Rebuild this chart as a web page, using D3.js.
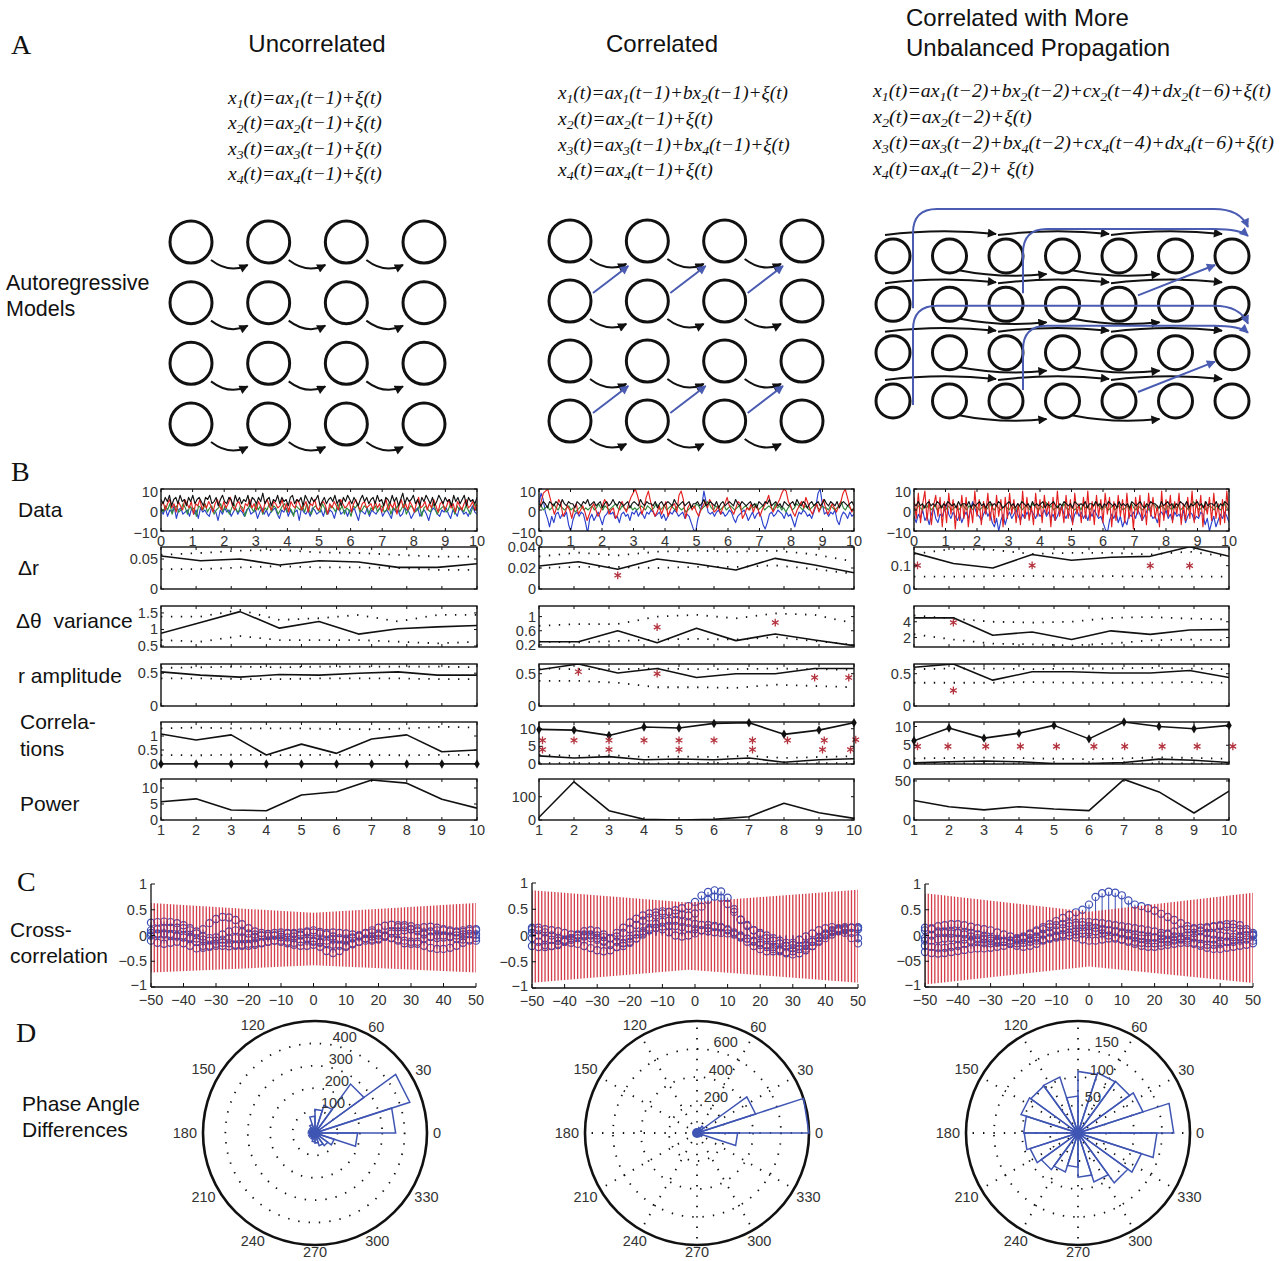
<!DOCTYPE html>
<html><head><meta charset="utf-8">
<script src="https://cdn.jsdelivr.net/npm/d3@7"></script>
<style>
body{margin:0;background:#fff}
svg{display:block}
text{font-family:"Liberation Sans",Arial,sans-serif;fill:#111}
</style>
</head><body><script>
// ===================== A: model equations =====================
const eqUncorrelated = ["x_1(t)=ax_1(t−1)+ξ(t)","x_2(t)=ax_2(t−1)+ξ(t)","x_3(t)=ax_3(t−1)+ξ(t)","x_4(t)=ax_4(t−1)+ξ(t)"];
const eqCorrelated = ["x_1(t)=ax_1(t−1)+bx_2(t−1)+ξ(t)","x_2(t)=ax_2(t−1)+ξ(t)","x_3(t)=ax_3(t−1)+bx_4(t−1)+ξ(t)","x_4(t)=ax_4(t−1)+ξ(t)"];
const eqUnbalanced = ["x_1(t)=ax_1(t−2)+bx_2(t−2)+cx_2(t−4)+dx_2(t−6)+ξ(t)","x_2(t)=ax_2(t−2)+ξ(t)","x_3(t)=ax_3(t−2)+bx_4(t−2)+cx_4(t−4)+dx_4(t−6)+ξ(t)","x_4(t)=ax_4(t−2)+ ξ(t)"];
const columnTitles = [["Uncorrelated"],["Correlated"],["Correlated with More","Unbalanced Propagation"]];

// Model graph edges: [row, fromNode, toRow, toNode]
const edgesUncorrelated = [[0,0,0,1],[0,1,0,2],[0,2,0,3],[1,0,1,1],[1,1,1,2],[1,2,1,3],[2,0,2,1],[2,1,2,2],[2,2,2,3],[3,0,3,1],[3,1,3,2],[3,2,3,3]];
const edgesCorrelatedCross = [[1,0,0,1],[1,1,0,2],[1,2,0,3],[3,0,2,1],[3,1,2,2],[3,2,2,3]];
const edgesLag2Above = [[0,2],[2,4],[4,6]];
const edgesLag2Below = [[1,3],[3,5]];
// cross-coupling in the unbalanced model: [srcRow, srcNode, tgtRow, tgtNode, lag]
const edgesUnbalancedCross = [[1,0,0,6,6],[1,2,0,6,4],[1,4,0,6,2],[3,0,2,6,6],[3,2,2,6,4],[3,4,2,6,2]];

// ===================== B: time-resolved measures =====================
const dataTicks = [0,1,2,3,4,5,6,7,8,9,10];
const nineX = [1,2.125,3.25,4.375,5.5,6.625,7.75,8.875,10];
const tenX = [1,2,3,4,5,6,7,8,9,10];

// Uncorrelated
const c1Blue = [0,-2,1,-3,0,-1,2,-4,0,1,-2,-1,0,-3,1,-2,0,-4,1,-1,0,-2,-3,1,0,-1,-5,0,-2,1,-1,0,-3,-1,1,-2,0,-1,-3,0,1,-2,-1,0,-4,-1,1,-2,0,-3,-1,0,1,-2,-4,0,-1,1,-3,0,-2,-1,0,-5,1,-1,-2,0,-3,1,0,-2,-1,0,-3,1,-2,0,-1,-4,0,1,-2,-1,0,-3,0,-1,1,-2,-5,0,-1,-2,1,-3,0,-1,-2,0,1,-3,-1,0,-2,-4,1,-1,0,-3,-2,1,0,-1,-4,-2,0,1,-3,-1,0,-2,-5,-1,1,0,-2,-3,0,-1,1,-2,-4,0,-1,-3,1,0,-2,-1,-3,0,2,-1,-2];
const c1Green = [1,-1,2,0,3,-2,1,2,-1,0,3,1,-2,2,0,1,-3,2,1,0,3,-1,1,2,-2,0,1,3,-1,2,0,-2,1,3,0,-1,2,1,-3,0,2,1,-1,3,0,2,-2,1,0,3,-1,2,1,-2,0,2,3,-1,1,0,-3,2,1,0,2,-1,3,0,-2,1,2,0,-1,3,1,-2,0,2,1,-1,3,0,2,-2,1,0,-3,2,1,3,-1,0,2,1,-2,1,0,2,-1,1,2,-1,0,3,-2,1,0,2,-1,1,3,-2,0,2,1,-1,0,2,-3,1,2,0,-1,3,1,-2,0,1,2,-1,0,3,1,-2,2,0,1,-1,2,0,-2,1,3,0];
const c1Red = [2,4,0,3,5,1,3,-1,4,2,0,5,3,1,4,-2,3,2,5,0,3,1,4,2,-1,3,5,2,0,4,1,3,6,2,0,3,4,1,-1,3,2,5,1,3,0,4,2,-1,3,5,2,0,4,3,1,2,5,0,3,-1,4,2,1,5,3,0,2,4,-1,3,2,5,1,0,3,4,2,-2,3,1,4,2,0,5,3,1,2,4,-1,3,5,2,0,3,4,1,2,3,0,4,1,3,-1,2,5,0,3,1,4,-2,2,5,1,3,0,4,2,-1,3,6,1,2,4,0,3,1,5,2,-1,3,4,0,2,5,1,3,-1,4,2,0,3,5,1,2,4,0,3];
const c1Black = [5,3,6,4,7,2,5,6,3,7,4,5,2,6,4,7,3,5,6,4,2,6,5,7,3,4,6,2,5,7,4,3,6,5,2,7,4,6,3,5,4,7,2,6,5,3,6,4,8,3,5,6,2,5,4,7,3,6,4,5,2,6,7,3,5,4,6,2,7,5,3,6,4,5,7,2,4,6,3,5,6,4,7,3,5,2,6,4,7,5,3,6,4,2,5,7,4,6,3,5,6,3,7,4,5,2,6,5,3,7,4,6,2,5,8,3,6,4,5,7,3,5,2,6,4,7,5,3,6,2,4,7,5,3,6,4,5,2,7,4,6,3,5,7,2,6,4,5,3,6];
const c1DrLine = [0.055,0.047,0.050,0.040,0.047,0.045,0.036,0.036,0.042];
const c1DrUp = [0.057,0.060,0.064,0.065,0.061,0.060,0.057,0.054,0.054];
const c1DrLo = [0.033,0.033,0.036,0.038,0.036,0.036,0.035,0.032,0.032];
const c1DthLine = [0.885,1.21,1.54,1.04,1.24,0.86,1.02,1.08,1.12];
const c1DthUp = [1.39,1.39,1.59,1.29,1.34,1.44,1.24,1.44,1.44];
const c1DthLo = [0.68,0.63,0.80,0.68,0.68,0.68,0.63,0.58,0.63];
const c1RampLine = [0.52,0.47,0.44,0.48,0.47,0.50,0.52,0.47,0.47];
const c1RampUp = [0.58,0.59,0.60,0.59,0.60,0.60,0.60,0.60,0.59];
const c1RampLo = [0.42,0.42,0.41,0.41,0.42,0.42,0.42,0.41,0.41];
const c1CorrLine = [1.07,0.86,1.04,0.32,0.71,0.38,0.89,1.04,0.44,0.5];
const c1CorrDiamond = [0,0,0,0,0,0,0,0,0,0];
const c1CorrUp = [1.27,1.30,1.27,1.27,1.27,1.25,1.24,1.27,1.33,1.30];
const c1CorrLo = [0.32,0.31,0.33,0.32,0.32,0.33,0.32,0.31,0.33,0.32];
const c1Power = [5.7,6.6,3.1,2.9,7.8,8.8,12.5,11.5,6.5,3.7];

// Correlated
const c2Blue = [3,8,5,-1,-4,-8,-3,-6,-2,-1,-4,-2,-3,-1,-7,-10,-5,-2,-1,-3,-1,-2,-6,-11,-4,-2,-5,-3,-1,-4,-7,-3,-2,0,-2,-1,-4,-3,-6,-2,-1,-3,-2,-5,-1,-2,0,-3,-1,-2,-4,-1,-2,0,-1,-3,-2,-1,-4,-2,-5,-3,-1,-2,0,-1,-3,-2,-1,-4,-2,-3,-6,-9,-11,-5,-1,2,9,4,-1,-2,-1,-3,-1,0,-2,-1,-3,-2,0,-1,-4,-6,-3,-2,-1,0,-2,-5,-3,-1,-4,-2,-1,-3,-7,-9,-6,-2,-1,-3,-2,0,-1,-2,-4,-1,-3,-2,-5,-8,-4,-1,-2,0,-1,-3,-2,-4,-1,2,8,10,3,-2,-1,-3,-1,-2,0,-5,-7,-3,-1,-2,-4,-1,-3,-2];
const c2Green = [1,2,0,1,2,0,1,3,1,0,2,1,0,1,2,0,1,-1,0,1,2,0,1,0,1,2,0,1,3,1,0,2,1,0,1,2,3,1,0,2,1,0,1,2,0,1,0,1,2,1,0,2,1,0,1,3,2,0,1,2,0,1,2,1,0,2,1,0,1,-1,0,1,2,1,3,2,0,1,2,4,3,1,0,2,1,0,1,2,0,1,2,1,0,1,2,0,1,2,1,0,2,1,3,0,1,2,0,1,2,1,0,3,1,2,0,1,-1,1,2,0,1,3,2,1,0,2,1,0,1,2,3,1,0,2,1,1,0,2,1,0,1,2,4,1,0,2,1,0,1];
const c2Red = [0,4,8,9,10,6,2,-2,1,5,3,-3,-1,2,0,-4,1,3,-2,0,2,-1,-5,-2,1,3,0,-3,-1,2,5,3,-2,0,1,-4,-2,2,4,1,-1,3,6,8,10,7,3,-2,1,6,9,4,0,-3,-1,2,-2,1,4,-3,0,2,3,-1,7,9,5,-4,1,3,0,2,-1,-3,0,2,4,1,5,3,-1,0,2,-2,1,3,6,2,0,-2,1,4,3,-4,-2,1,0,3,-1,2,1,-3,0,2,4,7,2,-1,1,3,5,8,10,9,4,2,-1,-3,0,2,4,1,6,3,0,-2,1,3,-1,2,5,1,-2,0,3,1,-1,2,4,8,10,6,2,-1,1];
const c2Black = [3,2,4,3,1,4,3,2,4,3,2,5,3,2,4,3,3,1,4,3,2,4,3,5,2,3,4,2,3,4,1,3,4,2,3,5,3,2,4,3,2,3,4,1,3,4,3,2,5,3,2,4,3,3,2,4,1,3,4,2,3,4,3,2,5,3,2,3,4,2,3,4,1,3,3,4,2,3,5,2,3,4,3,2,4,1,3,4,2,3,4,3,2,5,3,2,4,3,2,3,4,2,3,1,4,3,2,4,3,5,2,3,4,2,3,1,4,3,2,3,4,2,5,3,2,4,3,1,3,4,2,3,4,2,3,5,3,2,4,3,2,4,1,3,4,3,2,3,4,2];
const c2DrLine = [0.0219,0.026,0.0188,0.0286,0.0238,0.0181,0.0292,0.0229,0.0155];
const c2DrUp = [0.031,0.0346,0.032,0.0355,0.0365,0.0355,0.0365,0.033,0.026];
const c2DrLo = [0.020,0.021,0.021,0.020,0.021,0.021,0.0225,0.019,0.0145];
const c2DrStars = [[3.25,0.013]];
const c2DthLine = [0.29,0.29,0.6,0.26,0.67,0.32,0.51,0.34,0.18];
const c2DthUp = [0.74,0.79,0.79,1.0,1.05,0.95,1.09,1.05,0.81];
const c2DthLo = [0.29,0.27,0.31,0.35,0.37,0.35,0.42,0.31,0.2];
const c2DthStars = [[4.375,0.7],[7.75,0.83]];
const c2RampLine = [0.56,0.65,0.51,0.58,0.44,0.5,0.5,0.58,0.58];
const c2RampUp = [0.58,0.57,0.57,0.58,0.57,0.57,0.58,0.57,0.56];
const c2RampLo = [0.39,0.39,0.36,0.29,0.29,0.28,0.33,0.31,0.29];
const c2RampStars = [[2.125,0.53],[4.375,0.5],[8.875,0.44],[9.85,0.44]];
const c2CorrDiamond = [9.8,9.6,8.1,10.5,10.2,11.5,11.7,8.4,9.6,11.7];
const c2CorrLine = [2.3,1.7,2.1,1.2,1.4,1.2,1.7,0.5,1.2,1.5];
const c2CorrUp = [2.6,2.3,2.5,2.0,2.1,2.0,2.3,1.7,2.0,2.2];
const c2CorrLo = [0.3,0.2,0.3,0.2,0.2,0.3,0.2,0.1,0.2,0.3];
const c2CorrStars = [[1.1,6.7],[1.1,4.1],[2,6.7],[3,6.7],[3,4.1],[4,6.7],[5,6.7],[5,4.1],[6,6.7],[7.1,6.7],[7.1,4.1],[8.1,6.7],[9.15,6.7],[9.1,4.1],[10.05,6.9],[9.9,4.1]];
const c2Power = [11.6,164,40,3,0,3,14,72,31,7];

// Correlated, unbalanced propagation
const c3Blue = [-3,-6,-2,-4,0,-5,-3,-7,-2,1,-4,-6,-2,-3,0,3,-2,-4,-1,-3,-5,-2,-6,-3,-1,-4,0,4,1,-2,-3,-5,-2,0,-3,-1,-6,-8,-4,-10,-5,-2,-7,-3,-1,-4,-2,0,-3,-5,-2,-4,-1,-3,0,-2,-4,-1,-3,-2,0,-3,-1,-4,-2,-5,-3,0,2,-2,-4,-1,-3,-6,-2,0,-3,-1,-4,-2,-5,-1,-3,0,-2,-4,-3,-6,-9,-11,-5,-2,-4,-1,-6,-3,-8,-5,-7,-2,-3,-1,-4,0,-2,-5,-3,-1,2,-2,-4,-3,-6,-2,-1,-3,0,-4,-2,-5,-1,-3,-2,-4,0,-6,-3,-1,-2,-5,-3,-4,-1,-2,-7,-4,-10,-6,-3,-8,-5,-2,-4,-1,-3,-6];
const c3Green = [1,0,2,1,0,2,1,3,0,1,2,0,1,2,1,0,2,1,0,1,2,0,1,3,1,0,2,1,0,2,1,0,1,2,0,1,3,1,0,2,1,0,1,2,1,0,2,1,0,1,2,0,1,2,1,0,3,2,1,0,2,1,4,3,1,2,0,1,2,0,1,3,1,0,2,1,0,1,2,0,3,1,2,0,1,2,4,3,1,0,2,1,0,1,2,0,1,2,1,0,1,2,0,3,1,0,2,1,0,1,2,0,1,3,2,0,1,2,1,0,2,1,0,3,1,2,0,1,2,1,0,2,4,3,1,0,1,2,0,1,2,1,0,2,1,0,1,3,1,0];
const c3Red = [6,-4,8,-6,3,9,-5,5,-7,2,7,-3,6,-8,4,-6,8,-2,5,-9,3,-5,7,-4,6,-8,2,-6,9,-3,5,-7,4,-2,8,-5,3,-6,7,-3,5,-8,6,-4,8,-2,5,-6,3,-7,9,-4,6,-5,2,-7,8,-3,5,-6,7,-2,4,-8,6,-5,9,-3,2,-6,7,-4,5,-7,8,-2,3,-6,6,-4,9,-5,4,-7,7,-3,5,-6,8,-2,6,-8,4,-5,7,-3,5,-6,8,-4,3,-9,6,-2,7,-5,4,-7,8,-3,6,-4,2,-8,9,-5,5,-3,7,-6,4,-2,8,-7,3,-5,6,-4,9,-6,5,-3,7,-8,4,-2,6,-5,8,-4,3,-7,5,-6,9,-3];
const c3Black = [3,2,4,2,3,1,3,4,2,3,2,4,3,1,3,2,4,3,2,3,1,4,2,3,3,2,4,1,3,2,3,4,2,3,1,3,4,2,3,2,4,3,1,2,3,4,2,3,1,3,2,4,3,2,3,1,4,2,3,2,3,4,1,3,2,3,4,2,1,3,2,4,3,2,3,1,4,3,2,3,2,4,1,3,3,2,4,2,3,1,3,2,4,3,2,3,1,4,2,3,2,3,1,4,3,2,3,4,2,1,3,2,4,3,3,2,1,4,2,3,4,2,3,1,3,2,4,3,2,4,1,3,2,3,4,2,3,1,4,2,3,3,2,4,1,3,2,4,3,2];
const c3DrLine = [0.155,0.109,0.09,0.148,0.123,0.136,0.14,0.181,0.14];
const c3DrUp = [0.15,0.172,0.168,0.15,0.155,0.155,0.148,0.16,0.138];
const c3DrLo = [0.053,0.053,0.055,0.055,0.053,0.055,0.053,0.053,0.053];
const c3DrStars = [[1.1,0.101],[4.375,0.101],[7.75,0.1],[8.875,0.1]];
const c3DthLine = [4.5,4.5,2.3,2.7,1.75,2.85,2.4,2.95,3.0];
const c3DthUp = [4.8,4.4,4.0,3.9,4.0,4.5,4.6,4.4,4.3];
const c3DthLo = [2.42,1.74,1.23,1.14,1.0,1.23,1.65,1.74,1.65];
const c3DthStars = [[2.125,3.9]];
const c3RampLine = [0.6,0.65,0.4,0.53,0.53,0.51,0.51,0.55,0.44];
const c3RampUp = [0.57,0.58,0.58,0.57,0.58,0.58,0.59,0.58,0.57];
const c3RampLo = [0.36,0.36,0.36,0.37,0.36,0.36,0.36,0.37,0.36];
const c3RampStars = [[2.125,0.24]];
const c3CorrDiamond = [6.2,9.6,6.9,8.2,10.3,6.7,11.2,10,9.4,10.3];
const c3CorrLine = [0.3,0.6,0.8,0.6,0.1,0.1,0.4,1.3,1.0,0.4];
const c3CorrUp = [1.5,1.6,1.7,1.6,1.4,1.3,1.5,1.8,1.6,1.4];
const c3CorrLo = [0.1,0.1,0.2,0.1,0.0,0.1,0.1,0.2,0.1,0.1];
const c3CorrStars = [[1.1,4.7],[1.97,4.7],[3.05,4.7],[4.04,4.7],[5.07,4.7],[6.14,4.7],[7.02,4.7],[8.09,4.7],[9.09,4.7],[10.11,4.7]];
const c3Power = [25,17,13,17,14,12,52,36,9,37];

// ===================== C: cross-correlation =====================
const xcorrTicks = [-50,-40,-30,-20,-10,0,10,20,30,40,50];
const xcorrYTicks = [1,0.5,0,-0.5,-1];
const xcorrYLabels1 = ["1","0.5","0","−0.5","−1"];
const xcorrYLabels3 = ["1","0.5","0","−05","−1"];
// significance envelope breakpoints: lag, upper, lower
const env1Lags = [-50,0,50], env1Up = [0.63,0.44,0.63], env1Lo = [-0.72,-0.58,-0.72];
const env2Lags = [-50,-2,50], env2Up = [0.86,0.63,0.87], env2Lo = [-0.9,-0.65,-0.9];
const env3Lags = [-50,0,50], env3Up = [0.82,0.46,0.83], env3Lo = [-0.95,-0.6,-0.92];
// cross-correlation at lags -50..50 in steps of 2
const xc1a = [0.25,0.26,0.27,0.26,0.24,0.2,0.14,0.08,0.12,0.24,0.32,0.36,0.35,0.3,0.22,0.14,0.08,0.05,0.03,0.0,-0.03,-0.04,-0.02,0.02,0.06,0.1,0.07,0.02,-0.02,-0.05,-0.06,-0.04,0.0,0.05,0.1,0.15,0.19,0.21,0.2,0.16,0.12,0.08,0.06,0.08,0.1,0.1,0.08,0.06,0.07,0.09,0.1];
const xc1b = [0.1,0.12,0.14,0.15,0.15,0.14,0.1,0.04,-0.02,-0.05,-0.04,0.02,0.08,0.1,0.07,0.04,0.02,0.0,-0.01,0.0,0.02,0.04,0.03,0.0,-0.05,-0.12,-0.22,-0.3,-0.34,-0.3,-0.22,-0.15,-0.12,-0.1,-0.08,-0.06,-0.02,0.04,0.08,0.1,0.12,0.14,0.16,0.17,0.15,0.12,0.1,0.08,0.1,0.12,0.12];
const xc1c = [-0.1,-0.14,-0.16,-0.14,-0.12,-0.15,-0.2,-0.25,-0.24,-0.2,-0.16,-0.14,-0.15,-0.18,-0.2,-0.2,-0.18,-0.15,-0.12,-0.1,-0.1,-0.12,-0.14,-0.12,-0.1,-0.1,-0.12,-0.15,-0.18,-0.2,-0.2,-0.17,-0.12,-0.06,-0.02,0.0,-0.02,-0.05,-0.08,-0.1,-0.12,-0.16,-0.2,-0.24,-0.26,-0.26,-0.24,-0.2,-0.14,-0.08,-0.05];
const xc1d = [0.0,0.02,0.04,0.03,0.0,-0.04,-0.06,-0.06,-0.08,-0.1,-0.1,-0.08,-0.06,-0.05,-0.04,-0.05,-0.03,0.0,0.03,0.05,0.06,0.05,0.05,0.06,0.08,0.06,0.04,0.05,0.06,0.05,0.04,0.02,-0.02,-0.06,-0.1,-0.08,-0.02,0.08,0.16,0.2,0.18,0.1,0.02,-0.03,-0.05,-0.04,-0.02,0.0,0.02,0.03,0.02];
const xc1e = [0.05,0.04,0.02,0.0,-0.02,0.0,-0.04,-0.12,-0.2,-0.22,-0.2,-0.2,-0.21,-0.2,-0.18,-0.16,-0.15,-0.14,-0.12,-0.1,-0.12,-0.15,-0.18,-0.2,-0.2,-0.18,-0.14,-0.1,-0.08,-0.08,-0.1,-0.06,0.0,0.04,0.06,0.04,0.0,-0.05,-0.1,-0.15,-0.16,-0.12,-0.06,-0.02,0.0,0.0,-0.03,-0.06,-0.08,-0.1,-0.1];
const xc2a = [0.12,0.1,0.06,0.0,-0.05,-0.08,-0.08,-0.05,0.0,0.02,0.0,-0.03,-0.05,-0.02,0.05,0.12,0.2,0.28,0.34,0.38,0.42,0.45,0.48,0.52,0.56,0.64,0.76,0.83,0.86,0.84,0.72,0.5,0.3,0.18,0.1,0.05,0.0,-0.05,-0.1,-0.14,-0.18,-0.2,-0.18,-0.12,-0.05,0.02,0.08,0.12,0.14,0.15,0.15];
const xc2b = [0.15,0.15,0.12,0.1,0.08,0.05,0.02,0.0,-0.02,-0.05,-0.08,-0.1,-0.05,0.05,0.15,0.25,0.32,0.38,0.42,0.44,0.46,0.45,0.42,0.4,0.38,0.42,0.55,0.68,0.74,0.72,0.6,0.45,0.3,0.2,0.1,0.02,-0.05,-0.1,-0.15,-0.2,-0.24,-0.26,-0.25,-0.2,-0.12,-0.05,0.02,0.08,0.12,0.15,0.16];
const xc2c = [-0.05,-0.12,-0.18,-0.2,-0.18,-0.12,-0.05,0.02,0.08,0.1,0.08,0.02,-0.05,-0.12,-0.15,-0.12,-0.05,0.05,0.15,0.22,0.26,0.28,0.28,0.26,0.24,0.22,0.2,0.2,0.18,0.16,0.12,0.06,0.0,-0.06,-0.12,-0.18,-0.22,-0.26,-0.3,-0.32,-0.3,-0.26,-0.2,-0.12,-0.04,0.04,0.1,0.14,0.16,0.15,0.12];
const xc2d = [0.05,0.0,-0.05,-0.08,-0.1,-0.12,-0.14,-0.16,-0.2,-0.24,-0.28,-0.3,-0.28,-0.22,-0.14,-0.06,0.02,0.08,0.12,0.15,0.17,0.18,0.18,0.16,0.14,0.12,0.1,0.08,0.06,0.05,0.04,0.02,-0.02,-0.06,-0.1,-0.14,-0.18,-0.22,-0.28,-0.34,-0.36,-0.34,-0.28,-0.2,-0.1,0.0,0.06,0.1,0.1,0.05,-0.05];
const xc2e = [-0.2,-0.22,-0.22,-0.2,-0.16,-0.1,-0.05,0.0,0.02,0.0,-0.05,-0.12,-0.18,-0.22,-0.2,-0.14,-0.06,0.02,0.1,0.14,0.12,0.06,0.0,-0.02,0.0,0.04,0.1,0.14,0.16,0.15,0.1,0.04,-0.04,-0.12,-0.2,-0.26,-0.3,-0.3,-0.26,-0.2,-0.14,-0.08,-0.02,0.04,0.1,0.14,0.16,0.12,0.05,-0.05,-0.15];
const xc3a = [-0.1,-0.1,-0.08,-0.06,-0.05,-0.06,-0.08,-0.1,-0.12,-0.14,-0.15,-0.14,-0.12,-0.1,-0.06,-0.02,0.04,0.1,0.16,0.22,0.28,0.34,0.4,0.45,0.5,0.6,0.75,0.82,0.85,0.83,0.78,0.68,0.6,0.57,0.53,0.48,0.42,0.36,0.3,0.24,0.18,0.12,0.08,0.05,0.02,0.0,-0.02,-0.03,-0.02,0.0,0.02];
const xc3b = [-0.32,-0.34,-0.35,-0.34,-0.32,-0.3,-0.28,-0.26,-0.25,-0.25,-0.24,-0.22,-0.2,-0.16,-0.1,-0.04,0.02,0.08,0.12,0.16,0.2,0.22,0.24,0.25,0.26,0.26,0.25,0.24,0.22,0.2,0.18,0.16,0.14,0.12,0.1,0.08,0.05,0.02,-0.02,-0.06,-0.1,-0.14,-0.16,-0.18,-0.18,-0.16,-0.12,-0.08,-0.04,0.0,0.0];
const xc3c = [0.1,0.14,0.18,0.2,0.22,0.22,0.2,0.17,0.14,0.12,0.1,0.06,0.02,-0.02,-0.05,-0.06,-0.05,-0.02,0.02,0.06,0.1,0.14,0.18,0.2,0.2,0.18,0.15,0.12,0.1,0.08,0.06,0.04,0.02,0.0,-0.02,-0.04,-0.06,-0.08,-0.08,-0.05,0.0,0.05,0.1,0.14,0.18,0.2,0.22,0.22,0.2,0.12,0.0];
const xc3d = [-0.05,0.0,0.05,0.08,0.08,0.06,0.02,-0.02,-0.05,-0.08,-0.1,-0.12,-0.12,-0.1,-0.08,-0.06,-0.05,-0.06,-0.08,-0.06,-0.02,0.02,0.06,0.08,0.1,0.1,0.08,0.04,0.0,-0.04,-0.08,-0.1,-0.12,-0.14,-0.15,-0.15,-0.14,-0.12,-0.1,-0.08,-0.06,-0.04,-0.04,-0.06,-0.08,-0.1,-0.12,-0.12,-0.1,-0.08,-0.15];
const xc3e = [-0.2,-0.22,-0.24,-0.24,-0.22,-0.2,-0.16,-0.12,-0.08,-0.06,-0.06,-0.08,-0.12,-0.16,-0.2,-0.22,-0.2,-0.16,-0.1,-0.04,0.0,0.02,0.0,-0.04,-0.08,-0.1,-0.1,-0.08,-0.06,-0.06,-0.08,-0.12,-0.16,-0.2,-0.22,-0.22,-0.2,-0.18,-0.16,-0.14,-0.14,-0.16,-0.2,-0.24,-0.26,-0.26,-0.24,-0.22,-0.2,-0.18,-0.1];
const xc3f = [0.15,0.12,0.08,0.05,0.04,0.05,0.06,0.05,0.02,-0.02,-0.06,-0.1,-0.12,-0.14,-0.15,-0.14,-0.12,-0.1,-0.08,-0.06,-0.04,-0.02,0.0,0.02,0.04,0.06,0.08,0.1,0.1,0.08,0.04,0.0,-0.04,-0.06,-0.06,-0.04,0.0,0.04,0.08,0.1,0.12,0.14,0.15,0.16,0.17,0.18,0.17,0.15,0.12,0.08,0.05];

// ===================== D: phase angle difference roses (18° bins from 0°) =====================
const angleLabels = [0,30,60,120,150,180,210,240,270,300,330];
const rose1 = [360,445,270,130,105,75,40,30,25,30,25,30,25,30,40,45,60,70,90,190];
const rose1Rings = [100,200,300,400];
const rose2 = [800,440,60,40,30,20,18,15,15,15,15,15,15,18,20,20,25,30,40,290];
const rose2Rings = [200,400,600];
const rose3 = [171,122,114,113,110,66,105,104,107,97,96,90,81,73,61,79,92,110,119,141];
const rose3Rings = [50,100,150];

// ===================== drawing =====================
const svg = d3.select("body").append("svg").attr("width",1286).attr("height",1261);
const defs = svg.append("defs");
let clipN = 0;
const TICK_FS = 14.5;
function arrowMarker(id,color){
  defs.append("marker").attr("id",id).attr("viewBox","0 0 10 10").attr("refX",9).attr("refY",5)
    .attr("markerUnits","userSpaceOnUse").attr("markerWidth",10).attr("markerHeight",9).attr("orient","auto")
    .append("path").attr("d","M0,0 L10,5 L0,10 Z").attr("fill",color);
}
arrowMarker("ahBlack","#111");
arrowMarker("ahBlue","#4a5bb2");

function txt(x,y,s,o={}){
  const t = svg.append("text").attr("x",x).attr("y",y).text(s)
    .attr("font-size",o.size||21).attr("text-anchor",o.anchor||"start");
  if(o.family) t.style("font-family",o.family);
  if(o.pre) t.style("white-space","pre");
  if(o.baseline) t.attr("dominant-baseline",o.baseline);
  if(o.fill) t.style("fill",o.fill);
  return t;
}

// section letters and row labels
const serif = '"Liberation Serif","Times New Roman",serif';
txt(11,54,"A",{size:28,family:serif});
txt(11,481,"B",{size:28,family:serif});
txt(17,891,"C",{size:28,family:serif});
txt(16,1042,"D",{size:28,family:serif});
txt(6,290,"Autoregressive",{size:21.5});
txt(6,316,"Models",{size:21.5});
txt(18,517,"Data");
txt(18,575,"Δr");
txt(16,628,"Δθ  variance",{pre:true});
txt(18,683,"r amplitude");
txt(20,729,"Correla-");
txt(20,756,"tions");
txt(20,811,"Power");
txt(10,937,"Cross-");
txt(10,963,"correlation");
txt(22,1111,"Phase Angle");
txt(22,1137,"Differences");

// column titles
txt(317,52,columnTitles[0][0],{size:24,anchor:"middle"});
txt(662,52,columnTitles[1][0],{size:24,anchor:"middle"});
txt(906,26,columnTitles[2][0],{size:24});
txt(906,56,columnTitles[2][1],{size:24});

// equations with subscripts, fitted to a column width
function equation(x,y,str,width){
  const t = svg.append("text").attr("font-size",18.5).style("font-family",serif).style("font-style","italic");
  str.split(/_(\d)/).forEach((part,i)=>{
    if(i%2===1){ t.append("tspan").attr("dy",4).attr("font-size",13).text(part); }
    else if(part){ t.append("tspan").attr("dy", i>0?-4:0).text(part); }
  });
  const w = t.node().getBBox().width;
  t.attr("transform",`translate(${x},${y}) scale(${width/w},1)`);
}
const eqWidths = [[155,155,155,155],[231,156,233,156],[399,160,402,162]];
[eqUncorrelated,eqCorrelated,eqUnbalanced].forEach((eqs,c)=>{
  const xs=[228,558,873], ys=[[104,129,155,180],[99,125,151,176],[97,123,149,175]];
  eqs.forEach((e,i)=>equation(xs[c],ys[c][i],e,eqWidths[c][i]));
});

// ---------- A: node diagrams ----------
function nodeGrid(xr,yr,n,r){
  const x = d3.scalePoint(d3.range(n),xr), y = d3.scalePoint(d3.range(4),yr);
  const g = svg.append("g");
  d3.range(4).forEach(row=>d3.range(n).forEach(k=>{
    g.append("circle").attr("cx",x(k)).attr("cy",y(row)).attr("r",r)
      .attr("fill","none").attr("stroke","#111").attr("stroke-width",3);
  }));
  return {x,y,g};
}
function arrow(g,d,color,marker){
  g.append("path").attr("d",d).attr("fill","none").attr("stroke",color).attr("stroke-width",2)
    .attr("marker-end",`url(#${marker})`);
}
function shortArrows(grid){
  edgesUncorrelated.forEach(([r,a,r2,b])=>{
    const x0=grid.x(a)+20, y0=grid.y(r)+18, x1=grid.x(b)-21, y1=grid.y(r2)+23;
    arrow(grid.g,`M${x0},${y0} Q${(x0+x1)/2},${y0+14} ${x1},${y1}`,"#111","ahBlack");
  });
}
const g1 = nodeGrid([191,424],[242,424],4,21);
shortArrows(g1);
const g2 = nodeGrid([570,802],[241,421],4,21);
shortArrows(g2);
edgesCorrelatedCross.forEach(([r,a,r2,b])=>{
  const x0=g2.x(a)+23, y0=g2.y(r)-8, x1=g2.x(b)-19, y1=g2.y(r2)+25;
  arrow(g2.g,`M${x0},${y0} L${x1},${y1}`,"#4a5bb2","ahBlue");
});
const g3 = nodeGrid([893,1232],[256,401],7,17);
d3.range(4).forEach(row=>{
  const cy = g3.y(row);
  edgesLag2Above.forEach(([a,b])=>{
    const x0=g3.x(a)-8, x1=g3.x(b)-10, y0=cy-21, y1=cy-22;
    arrow(g3.g,`M${x0},${y0} Q${(x0+x1)/2},${cy-28} ${x1},${y1}`,"#111","ahBlack");
  });
  edgesLag2Below.forEach(([a,b])=>{
    const x0=g3.x(a)+8, x1=g3.x(b)-16, y0=cy+14, y1=cy+18;
    arrow(g3.g,`M${x0},${y0} Q${(x0+x1)/2},${cy+23} ${x1},${y1}`,"#111","ahBlack");
  });
});
edgesUnbalancedCross.forEach(([r,a,r2,b,lag])=>{
  const sy=g3.y(r), ty=g3.y(r2);
  if(lag===2){
    arrow(g3.g,`M${g3.x(a)+19},${sy-9} L${g3.x(b)-17},${ty+9}`,"#4a5bb2","ahBlue");
    return;
  }
  const level = ty-(lag===6?47:27), sx=g3.x(a)+(lag===6?20:17), s0=sy+(lag===6?4:-11);
  const ex=g3.x(b)+16, ey=ty-(lag===6?29:20);
  arrow(g3.g,`M${sx},${s0} L${sx},${level+24} Q${sx},${level} ${sx+24},${level} L${ex-34},${level} Q${ex-8},${level} ${ex},${ey}`,"#4a5bb2","ahBlue");
});

// ---------- B: panels ----------
const bCols = [[161,477],[539,854],[914,1229]];
const bRows = {data:[489,531],dr:[547,589],dth:[606,647],ramp:[664,706],corr:[722,764],power:[779,820]};
function panel(col,row,cfg){
  const [x0,x1]=bCols[col], [y0,y1]=bRows[row];
  const x = d3.scaleLinear(cfg.xDom||[1,10],[x0,x1]);
  const y = d3.scaleLinear(cfg.yDom,[y1,y0]);
  const g = svg.append("g");
  const id = "clip"+(clipN++);
  defs.append("clipPath").attr("id",id).append("rect").attr("x",x0).attr("y",y0).attr("width",x1-x0).attr("height",y1-y0);
  const inner = g.append("g").attr("clip-path",`url(#${id})`);
  (cfg.lines||[]).forEach(s=>{
    const pts = s.ys.map((v,i)=>[s.xs?s.xs[i]:cfg.xDom[0]+i*(cfg.xDom[1]-cfg.xDom[0])/(s.ys.length-1),v]);
    inner.append("path").attr("d",d3.line().x(d=>x(d[0])).y(d=>y(d[1]))(pts))
      .attr("fill","none").attr("stroke",s.color||"#111").attr("stroke-width",s.width||1.6)
      .attr("stroke-dasharray",s.dash||null).attr("stroke-linejoin","round");
  });
  (cfg.diamonds||[]).forEach(s=>{
    s.ys.forEach((v,i)=>g.append("path").attr("d",d3.symbol(d3.symbolDiamond,26)())
      .attr("transform",`translate(${x(s.xs[i])},${y(v)})`).attr("fill","#111"));
  });
  (cfg.stars||[]).forEach(([sx,sy])=>{
    g.append("path").attr("d",d3.symbol(d3.symbolAsterisk,42)())
      .attr("transform",`translate(${x(sx)},${y(sy)})`).attr("fill","none").attr("stroke","#b3343f").attr("stroke-width",1.3);
  });
  g.append("rect").attr("x",x0).attr("y",y0).attr("width",x1-x0).attr("height",y1-y0)
    .attr("fill","none").attr("stroke","#111").attr("stroke-width",1.4);
  const xt = cfg.xTicks||tenX;
  xt.forEach(v=>{
    g.append("line").attr("x1",x(v)).attr("x2",x(v)).attr("y1",y0).attr("y2",y0+3).attr("stroke","#111");
    g.append("line").attr("x1",x(v)).attr("x2",x(v)).attr("y1",y1).attr("y2",y1-3).attr("stroke","#111");
  });
  cfg.yTicks.forEach((v,i)=>{
    g.append("line").attr("x1",x0).attr("x2",x0+3).attr("y1",y(v)).attr("y2",y(v)).attr("stroke","#111");
    g.append("line").attr("x1",x1).attr("x2",x1-3).attr("y1",y(v)).attr("y2",y(v)).attr("stroke","#111");
    txt(x0-3,y(v)+(cfg.yNudge?cfg.yNudge[i]:0),cfg.yLabels[i],{size:TICK_FS,anchor:"end",baseline:"central",fill:"#333"});
  });
  if(cfg.xLabels){
    xt.forEach(v=>txt(x(v),y1+15,String(v),{size:TICK_FS,anchor:"middle",fill:"#333"}));
  }
}
const dot = "1.4 8.5";
function dataPanel(col,blue,green,red,black){
  panel(col,"data",{xDom:[0,10],yDom:[-10,10],xTicks:dataTicks,xLabels:true,yTicks:[10,0,-10],yLabels:["10","0","−10"],yNudge:[3,2,2],
    lines:[{ys:blue,color:"#2b40cc",width:1.15},{ys:green,color:"#2f8a3c",width:1.15},{ys:red,color:"#e3201f",width:1.15},{ys:black,color:"#111",width:1.15}]});
}
dataPanel(0,c1Blue,c1Green,c1Red,c1Black);
dataPanel(1,c2Blue,c2Green,c2Red,c2Black);
dataPanel(2,c3Blue,c3Green,c3Red,c3Black);
function trio(line,up,lo,xs){ return [{ys:line,xs},{ys:up,xs,dash:dot,width:1.8},{ys:lo,xs,dash:dot,width:1.8}]; }

panel(0,"dr",{yDom:[0,0.07],yTicks:[0.05,0],yLabels:["0.05","0"],lines:trio(c1DrLine,c1DrUp,c1DrLo,nineX)});
panel(0,"dth",{yDom:[0.47,1.71],yTicks:[1.5,1,0.5],yLabels:["1.5","1","0.5"],lines:trio(c1DthLine,c1DthUp,c1DthLo,nineX)});
panel(0,"ramp",{yDom:[0,0.64],yTicks:[0.5,0],yLabels:["0.5","0"],lines:trio(c1RampLine,c1RampUp,c1RampLo,nineX)});
panel(0,"corr",{yDom:[0,1.5],yTicks:[1,0.5,0],yLabels:["1","0.5","0"],lines:trio(c1CorrLine,c1CorrUp,c1CorrLo,tenX).concat([{ys:c1CorrDiamond,xs:tenX}]),diamonds:[{ys:c1CorrDiamond,xs:tenX}]});
panel(0,"power",{yDom:[0,12.8],yTicks:[10,5,0],yLabels:["10","5","0"],xLabels:true,lines:[{ys:c1Power,xs:tenX}]});

panel(1,"dr",{yDom:[0,0.04],yTicks:[0.04,0.02,0],yLabels:["0.04","0.02","0"],lines:trio(c2DrLine,c2DrUp,c2DrLo,nineX),stars:c2DrStars});
panel(1,"dth",{yDom:[0.14,1.3],yTicks:[1,0.6,0.2],yLabels:["1","0.6","0.2"],lines:trio(c2DthLine,c2DthUp,c2DthLo,nineX),stars:c2DthStars});
panel(1,"ramp",{yDom:[0,0.65],yTicks:[0.5,0],yLabels:["0.5","0"],lines:trio(c2RampLine,c2RampUp,c2RampLo,nineX),stars:c2RampStars});
panel(1,"corr",{yDom:[0,11.9],yTicks:[10,5,0],yLabels:["10","5","0"],lines:trio(c2CorrLine,c2CorrUp,c2CorrLo,tenX).concat([{ys:c2CorrDiamond,xs:tenX}]),diamonds:[{ys:c2CorrDiamond,xs:tenX}],stars:c2CorrStars});
panel(1,"power",{yDom:[0,176],yTicks:[100,0],yLabels:["100","0"],xLabels:true,lines:[{ys:c2Power,xs:tenX}]});

panel(2,"dr",{yDom:[0,0.18],yTicks:[0.1,0],yLabels:["0.1","0"],lines:trio(c3DrLine,c3DrUp,c3DrLo,nineX),stars:c3DrStars});
panel(2,"dth",{yDom:[0.8,6.0],yTicks:[4,2],yLabels:["4","2"],lines:trio(c3DthLine,c3DthUp,c3DthLo,nineX),stars:c3DthStars});
panel(2,"ramp",{yDom:[0,0.65],yTicks:[0.5,0],yLabels:["0.5","0"],lines:trio(c3RampLine,c3RampUp,c3RampLo,nineX),stars:c3RampStars});
panel(2,"corr",{yDom:[0,11.2],yTicks:[10,5,0],yLabels:["10","5","0"],lines:trio(c3CorrLine,c3CorrUp,c3CorrLo,tenX).concat([{ys:c3CorrDiamond,xs:tenX}]),diamonds:[{ys:c3CorrDiamond,xs:tenX}],stars:c3CorrStars});
panel(2,"power",{yDom:[0,52.5],yTicks:[50,0],yLabels:["50","0"],xLabels:true,lines:[{ys:c3Power,xs:tenX}]});

// ---------- C: cross-correlation stems ----------
function xcorr(cfg){
  const x = d3.scaleLinear([-50,50],cfg.xr), y = d3.scaleLinear([-1,1],cfg.yr);
  const g = svg.append("g");
  cfg.curves.forEach(c=>c.forEach((v,i)=>{
    const lag = -50+i*100/(c.length-1);
    g.append("line").attr("x1",x(lag)).attr("x2",x(lag)).attr("y1",y(0)).attr("y2",y(v)).attr("stroke","#3d4fb5").attr("stroke-width",1);
  }));
  cfg.curves.forEach(c=>c.forEach((v,i)=>{
    const lag = -50+i*100/(c.length-1);
    g.append("circle").attr("cx",x(lag)).attr("cy",y(v)).attr("r",3.6).attr("fill","none").attr("stroke","#3d4fb5").attr("stroke-width",1.2);
  }));
  const id = "clip"+(clipN++);
  const env = cfg.lags.map((l,i)=>[l,cfg.up[i],cfg.lo[i]]);
  defs.append("clipPath").attr("id",id).append("path")
    .attr("d",d3.area().x(d=>x(d[0])).y0(d=>y(d[2])).y1(d=>y(d[1]))(env));
  const bars = g.append("g").attr("clip-path",`url(#${id})`);
  d3.range(-50,51).forEach(l=>bars.append("line").attr("x1",x(l)).attr("x2",x(l)).attr("y1",y(1)).attr("y2",y(-1))
    .attr("stroke","#cf2230").attr("stroke-width",1.3).attr("opacity",0.88));
  // axes
  g.append("line").attr("x1",x(-50)).attr("x2",x(-50)).attr("y1",y(1)).attr("y2",y(-1)).attr("stroke","#111").attr("stroke-width",1.3);
  g.append("line").attr("x1",x(-50)).attr("x2",x(50)).attr("y1",y(-1)).attr("y2",y(-1)).attr("stroke","#111").attr("stroke-width",1.3);
  xcorrYTicks.forEach((v,i)=>{
    g.append("line").attr("x1",x(-50)).attr("x2",x(-50)+4).attr("y1",y(v)).attr("y2",y(v)).attr("stroke","#111");
    txt(x(-50)-4,y(v)-(v===-1?2:0),cfg.yLabels[i],{size:TICK_FS,anchor:"end",baseline:"central",fill:"#333"});
  });
  xcorrTicks.forEach(v=>{
    g.append("line").attr("x1",x(v)).attr("x2",x(v)).attr("y1",y(-1)).attr("y2",y(-1)-4).attr("stroke","#111");
    txt(x(v),y(-1)+18,String(v).replace("-","−"),{size:TICK_FS,anchor:"middle",fill:"#333"});
  });
}
xcorr({xr:[151,476],yr:[987,884],curves:[xc1a,xc1b,xc1c,xc1d,xc1e],lags:env1Lags,up:env1Up,lo:env1Lo,yLabels:xcorrYLabels1});
xcorr({xr:[532,858],yr:[988,883],curves:[xc2a,xc2b,xc2c,xc2d,xc2e],lags:env2Lags,up:env2Up,lo:env2Lo,yLabels:xcorrYLabels1});
xcorr({xr:[925,1253],yr:[987,884],curves:[xc3a,xc3b,xc3c,xc3d,xc3e,xc3f],lags:env3Lags,up:env3Up,lo:env3Lo,yLabels:xcorrYLabels3});

// ---------- D: rose plots ----------
function rose(cfg){
  const R = 112, r = d3.scaleLinear([0,cfg.rmax],[0,R]);
  const g = svg.append("g").attr("transform",`translate(${cfg.cx},${cfg.cy})`);
  const P = (deg,v)=>[r(v)*Math.cos(deg*Math.PI/180), -r(v)*Math.sin(deg*Math.PI/180)];
  cfg.rings.forEach(v=>g.append("circle").attr("r",r(v)).attr("fill","none").attr("stroke","#111")
    .attr("stroke-width",1.8).attr("stroke-dasharray","1.4 9"));
  if(cfg.spokes) d3.range(0,360,30).forEach(a=>{
    const [px,py]=P(a,cfg.rmax);
    g.append("line").attr("x1",0).attr("y1",0).attr("x2",px).attr("y2",py).attr("stroke","#111")
      .attr("stroke-width",1.8).attr("stroke-dasharray","1.4 9");
  });
  g.append("circle").attr("r",R).attr("fill","none").attr("stroke","#111").attr("stroke-width",2.6);
  cfg.bins.forEach((v,i)=>{
    const a=P(i*18,v), b=P((i+1)*18,v);
    g.append("path").attr("d",`M0,0 L${a[0]},${a[1]} L${b[0]},${b[1]} Z`).attr("fill","none")
      .attr("stroke","#3f55b3").attr("stroke-width",1.5).attr("stroke-linejoin","miter");
  });
  g.append("circle").attr("r",5).attr("fill","#3f55b3");
  angleLabels.forEach(a=>{
    const c = Math.abs(Math.cos(a*Math.PI/180)), s = Math.sin(a*Math.PI/180);
    const w = String(a).length*8.1;
    const rr = R+7+2*c+c*(w/2-3);
    g.append("text").attr("x",rr*Math.cos(a*Math.PI/180)).attr("y",-rr*s).attr("text-anchor","middle").attr("dominant-baseline","central")
      .attr("font-size",TICK_FS).style("fill","#333").text(a);
  });
  cfg.rings.forEach(v=>{
    const rr=r(v), a=80*Math.PI/180;
    g.append("text").attr("x",rr*Math.cos(a)+2).attr("y",-rr*Math.sin(a)-3).attr("font-size",TICK_FS).style("fill","#333").text(v);
  });
}
rose({cx:315,cy:1133,rmax:500,rings:rose1Rings,bins:rose1,spokes:false});
rose({cx:697,cy:1133,rmax:800,rings:rose2Rings,bins:rose2,spokes:true});
rose({cx:1078,cy:1133,rmax:200,rings:rose3Rings,bins:rose3,spokes:true});
</script></body></html>
